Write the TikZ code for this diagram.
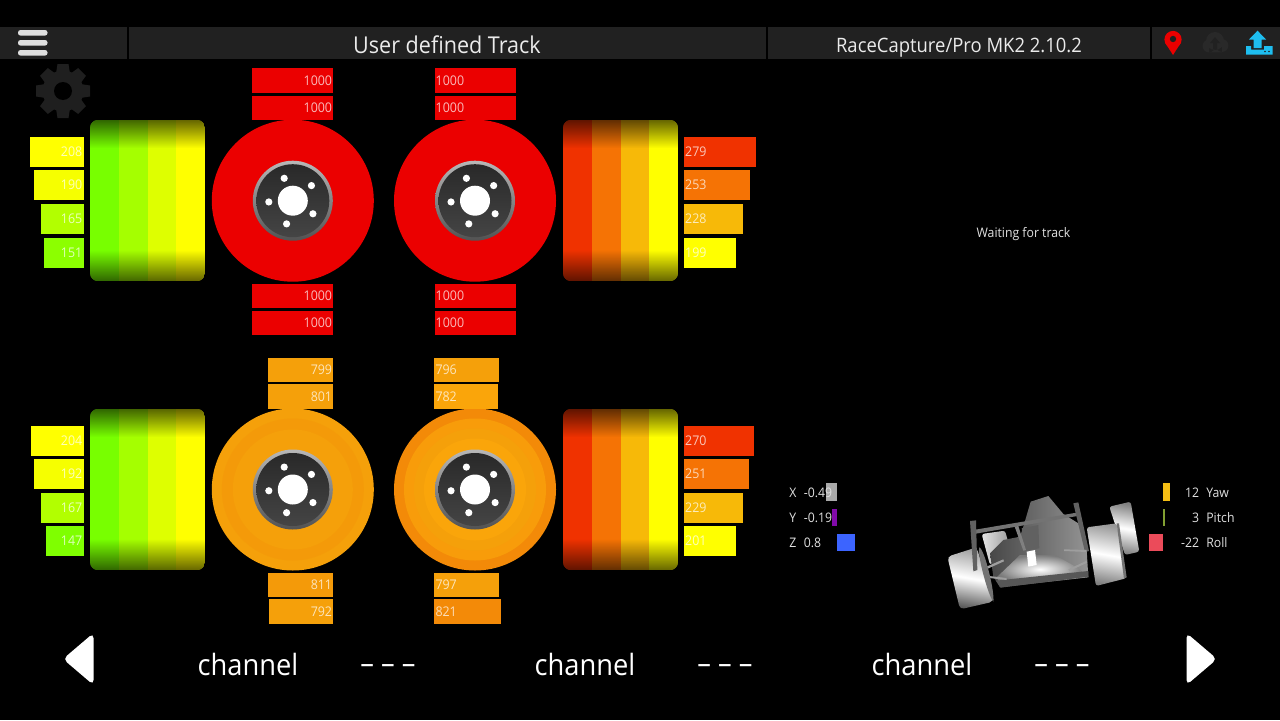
\documentclass[tikz,border=0pt]{standalone}
\usepackage{fontspec}
\setmainfont{Open Sans}[FakeStretch=0.93]
\definecolor{headbar}{RGB}{33,33,33}
\definecolor{gearcol}{RGB}{31,31,31}
\definecolor{cloudcol}{RGB}{41,41,41}
\definecolor{uploadcol}{RGB}{30,190,240}
\definecolor{discred}{RGB}{235,0,0}
\definecolor{hubdark}{RGB}{48,48,48}
\definecolor{tA}{RGB}{255,255,0}
\definecolor{tB}{RGB}{222,255,0}
\definecolor{tC}{RGB}{165,255,0}
\definecolor{tD}{RGB}{120,255,0}
\definecolor{tE}{RGB}{247,185,8}
\definecolor{tF}{RGB}{245,115,5}
\definecolor{tG}{RGB}{240,50,0}
\definecolor{bA}{RGB}{245,160,10}
\definecolor{bB}{RGB}{244,154,9}
\definecolor{bC}{RGB}{243,138,8}
\definecolor{bD}{RGB}{248,156,10}
\definecolor{bE}{RGB}{250,165,10}
\definecolor{imuX}{RGB}{170,170,170}
\definecolor{imuY}{RGB}{130,10,170}
\definecolor{imuZ}{RGB}{60,100,255}
\definecolor{imuYaw}{RGB}{245,190,20}
\definecolor{imuPitch}{RGB}{130,160,50}
\definecolor{imuRoll}{RGB}{235,75,90}
\usetikzlibrary{fadings}
\tikzset{
  barbox/.style={anchor=west,inner sep=0pt,outer sep=0pt,minimum height=30*0.02cm},
  brakebox/.style={barbox,minimum height=24.4*0.02cm},
  bartext/.style={font=\fontsize{7.6}{8}\selectfont,text=white,text opacity=0.72,inner sep=0.5pt},
  uitext/.style={font=\fontsize{7.5}{8}\selectfont,text=white!88!black,inner sep=0pt},
  channeltext/.style={font=\fontsize{16.7}{20}\selectfont,text=white,inner sep=0pt}
}
\newcommand{\valbar}[7][barbox]{\ifdim#4pt<600pt \def\barside{east}\else\def\barside{west}\fi
  \ifdim#4pt>400pt \ifdim#4pt<600pt \def\barside{west}\fi\fi
  \node[#1,fill=#3,minimum width=#5*0.02cm] at (#4,#6) (#2) {};
  \node[bartext,anchor=\barside] at (#2.\barside) (#2t) {#7}}
\newcommand{\tyrestrip}[3]{\begin{scope}[shift={(#1,#2)}]
    \clip[rounded corners=1.6mm] (0,0) rectangle (115,161);
    \foreach \c [count=\i from 0, evaluate=\i as \sx using \i*28.75] in {#3} {
      \fill[\c] (\sx,0) rectangle ++(28.75,161);
    }
    \fill[black,fill opacity=0.6,path fading=south] (0,0) rectangle (115,28);
    \fill[black,fill opacity=0.6,path fading=north] (0,130) rectangle (115,161);
  \end{scope}}
\newcommand{\brakedisc}[4]{\coordinate (#1) at (#2,#3);
  \foreach \r/\c in {#4} {\fill[\c] (#1) circle[radius=\r];}
  \shade[top color=white!72!black,bottom color=white!32!black] (#1) circle[radius=40];
  \shade[top color=hubdark!85!black,bottom color=hubdark!90!white] (#1) circle[radius=36.5];
  \fill[white] (#1) circle[radius=15];
  \foreach \a in {39,111,183,255,327} {\fill[white] (#1) ++(-\a:24) circle[radius=3.6];}}
\begin{document}
\begin{tikzpicture}[x=0.02cm,y=-0.02cm]
  \useasboundingbox (0,0) rectangle (1280,720);
  \fill[black] (0,0) rectangle (1280,720);
  % header
  \fill[headbar] (0,27) rectangle (1280,59);
  \foreach \x in {128,767,1151} {\fill[black] (\x-0.8,27) rectangle (\x+0.8,59);}
  \foreach \y in {30,40,50} {\fill[white!87!black,rounded corners=0.5mm] (18,\y) rectangle (47.5,\y+5.6);}
  \node[font=\fontsize{13.2}{16}\selectfont,text=white!92!black,inner sep=0pt] at (447,45) (tracktitle) {User defined Track};
  \node[font=\fontsize{11.3}{14}\selectfont,text=white!92!black,inner sep=0pt] at (959,47.5) (devicename) {RaceCapture/Pro MK2 2.10.2};
  % pin
  \fill[red!92!black] (1173,55) -- (1165.3,43) -- (1180.7,43) -- cycle;
  \fill[red!92!black] (1173,39.5) circle[radius=8.6];
  \fill[headbar] (1173,39) circle[radius=3.2];
  % cloud
  \fill[cloudcol] (1209,46) circle[radius=6.4] (1215,41) circle[radius=9] (1222,45.5) circle[radius=6.4] (1209,44) rectangle (1222,52.4);
  \fill[headbar] (1215,37) -- (1220,43) -- (1217,43) -- (1217,49) -- (1213,49) -- (1213,43) -- (1210,43) -- cycle;
  % upload
  \fill[uploadcol] (1246,46) -- (1251,46) -- (1251,49.5) -- (1264,49.5) -- (1264,46) -- (1272.5,46) -- (1272.5,54.5) -- (1246,54.5) -- cycle;
  \fill[uploadcol] (1257.5,30.7) -- (1266,39.5) -- (1261.5,39.5) -- (1261.5,48) -- (1253.5,48) -- (1253.5,39.5) -- (1249,39.5) -- cycle;
  \fill[headbar] (1265,51.5) circle[radius=0.9] (1269,51.5) circle[radius=0.9];
  % gear
  \foreach \a in {0,45,...,315} {\fill[gearcol,rotate around={\a:(63,91)}] (57.5,64) -- (68.5,64) -- (71,80) -- (55,80) -- cycle;}
  \fill[gearcol] (63,91) circle[radius=20.5];
  \fill[black] (63,91) circle[radius=9];

  % tyres
  \tyrestrip{90}{120}{tD,tC,tB,tA}
  \tyrestrip{563}{120}{tG,tF,tE,tA}
  \tyrestrip{90}{409}{tD,tC,tB,tA}
  \tyrestrip{563}{409}{tG,tF,tE,tA}

  % discs
  \brakedisc{discfl}{292.8}{200.7}{81/discred}
  \brakedisc{discfr}{475}{200.7}{81/discred}
  \brakedisc{discrl}{292.8}{489.5}{81/bA,71/bB,60/bA}
  \brakedisc{discrr}{475}{489.5}{81/bC,71/bD,61/bA,51/bE}

  % tyre temperature bars
  \valbar{tfl1}{tA}{30}{53.5}{152}{208};
  \valbar{tfl2}{tA!90!tC}{34.3}{49.2}{185}{190};
  \valbar{tfl3}{tC!85!tA}{41}{42.5}{219}{165};
  \valbar{tfl4}{tC!45!tD}{44.3}{39.2}{253}{151};
  \valbar{tfr1}{tG}{684}{72}{152}{279};
  \valbar{tfr2}{tF}{684}{65.5}{185}{253};
  \valbar{tfr3}{tE}{684}{59}{219}{228};
  \valbar{tfr4}{tA}{684}{52}{253}{199};
  \valbar{trl1}{tA}{31.3}{52.2}{440.5}{204};
  \valbar{trl2}{tA!90!tC}{34.3}{49.2}{474}{192};
  \valbar{trl3}{tC!85!tA}{40.6}{42.9}{508}{167};
  \valbar{trl4}{tD!85!tC}{45.6}{37.9}{541}{147};
  \valbar{trr1}{tG}{684}{70}{440.5}{270};
  \valbar{trr2}{tF}{684}{65}{474}{251};
  \valbar{trr3}{tE}{684}{59}{508}{229};
  \valbar{trr4}{tA}{684}{52}{541}{201};

  % brake temperature bars
  \valbar[brakebox]{bfl1}{discred}{252}{81.3}{80.5}{1000};
  \valbar[brakebox]{bfl2}{discred}{252}{81.3}{107.8}{1000};
  \valbar[brakebox]{bfl3}{discred}{252}{81.3}{296}{1000};
  \valbar[brakebox]{bfl4}{discred}{252}{81.3}{322.8}{1000};
  \valbar[brakebox]{bfr1}{discred}{434.5}{81.3}{80.5}{1000};
  \valbar[brakebox]{bfr2}{discred}{434.5}{81.3}{107.8}{1000};
  \valbar[brakebox]{bfr3}{discred}{434.5}{81.3}{296}{1000};
  \valbar[brakebox]{bfr4}{discred}{434.5}{81.3}{322.8}{1000};
  \valbar[brakebox]{brl1}{bA}{268.3}{65}{370}{799};
  \valbar[brakebox]{brl2}{bA}{268.3}{65}{396.6}{801};
  \valbar[brakebox]{brl3}{bB}{267.7}{65.6}{585}{811};
  \valbar[brakebox]{brl4}{bA}{269}{64.3}{611.4}{792};
  \valbar[brakebox]{brr1}{bA}{434.3}{65}{370}{796};
  \valbar[brakebox]{brr2}{bE}{434.3}{63.4}{396.6}{782};
  \valbar[brakebox]{brr3}{bA}{434.3}{65}{585}{797};
  \valbar[brakebox]{brr4}{bC}{434.3}{67}{611.4}{821};

  \node[uitext] at (1023.5,234.5) (waitmsg) {Waiting for track};

  % imu readout
  \fill[imuX] (826,483.3) rectangle (837.3,500.7);
  \fill[imuY] (832.3,509) rectangle (837.3,525.7);
  \fill[imuZ] (836.7,534) rectangle (855,550.7);
  \node[uitext,anchor=west] at (789,493) (imuxl) {X};
  \node[uitext,anchor=west] at (789,518) (imuyl) {Y};
  \node[uitext,anchor=west] at (789,543) (imuzl) {Z};
  \node[uitext,anchor=west] at (803.5,493) (imux) {-0.49};
  \node[uitext,anchor=west] at (803.5,518) (imuy) {-0.19};
  \node[uitext,anchor=west] at (803.5,543) (imuz) {0.8};
  \fill[imuYaw] (1162.7,483.3) rectangle (1170.3,500.7);
  \fill[imuPitch] (1162.7,509) rectangle (1165,525.7);
  \fill[imuRoll] (1149.3,534) rectangle (1163,550.7);
  \node[uitext,anchor=east] at (1199.5,493) (yawv) {12};
  \node[uitext,anchor=east] at (1199.5,518) (pitchv) {3};
  \node[uitext,anchor=east] at (1199.5,543) (rollv) {-22};
  \node[uitext,anchor=west] at (1206,493) (yawl) {Yaw};
  \node[uitext,anchor=west] at (1206,518) (pitchl) {Pitch};
  \node[uitext,anchor=west] at (1206,543) (rolll) {Roll};

  % car
  \begin{scope}[shift={(940,490)},scale=0.3333]
    % far wheels
    \shade[top color=white!50!black,bottom color=white!50!black,middle color=white,shading angle=-10,rounded corners=0.5mm] (508,50) -- (572,35) -- (598,185) -- (555,195) -- cycle;
    \shade[left color=white!90!black,right color=white!60!black,rounded corners=0.5mm] (125,132) -- (195,122) -- (210,175) -- (150,225) -- cycle;
    % body
    \shade[left color=white!28!black,right color=white!58!black] (150,190) -- (190,150) -- (240,140) -- (250,110) -- (272,35) -- (325,18) -- (370,72) -- (415,100) -- (440,180) -- (445,262) -- (180,292) -- (160,260) -- cycle;
    \fill[white!38!black] (245,115) -- (295,105) -- (298,175) -- (255,182) -- cycle;
    \shade[inner color=white,outer color=white!48!black] (170,262) -- (240,195) -- (345,195) -- (415,235) -- (430,250) -- (180,280) -- cycle;
    \fill[white!34!black] (168,272) -- (445,243) -- (445,260) -- (182,293) -- cycle;
    \fill[white] (260,185) -- (285,180) -- (290,225) -- (265,230) -- cycle;
    % wing and arms
    \fill[white!45!black] (100,120) -- (410,68) -- (412,78) -- (102,132) -- cycle;
    \fill[white!38!black] (400,40) -- (415,37) -- (447,183) -- (435,186) -- cycle;
    \fill[white!50!black] (224,110) -- (235,108) -- (258,180) -- (250,182) -- cycle;
    \fill[white!62!black] (128,235) -- (190,208) -- (192,214) -- (130,242) -- cycle;
    \fill[white!62!black] (130,256) -- (200,264) -- (200,270) -- (130,262) -- cycle;
    \fill[white!62!black] (372,178) -- (440,180) -- (440,186) -- (372,183) -- cycle;
    \fill[white!62!black] (385,238) -- (440,212) -- (442,218) -- (388,243) -- cycle;
    % near wheels
    \shade[top color=white!62!black,bottom color=white!35!black,middle color=white,shading angle=-10,rounded corners=0.8mm] (22,200) -- (110,172) -- (160,335) -- (60,358) -- cycle;
    \fill[white!45!black] (118,172) .. controls (135,180) and (165,310) .. (160,335) .. controls (145,320) and (110,190) .. (118,172) -- cycle;
    \shade[top color=white!60!black,bottom color=white!50!black,middle color=white,shading angle=-10,rounded corners=0.5mm] (440,112) -- (530,100) -- (558,265) -- (468,288) -- cycle;
    \fill[white!45!black] (530,100) -- (537,100) -- (560,262) -- (552,266) -- cycle;
    \fill[white!38!black] (90,93) -- (108,91) -- (112,240) -- (100,244) -- cycle;
  \end{scope}

  % footer
  \fill[white,rounded corners=1mm] (63,659) -- (93.5,633) -- (93.5,685) -- cycle;
  \fill[white,rounded corners=1mm] (1217,659) -- (1186.5,633) -- (1186.5,685) -- cycle;
  \foreach \x/\n in {248/cha,585/chb,922/chc} {
    \node[channeltext] at (\x,664.5) (\n) {channel};
    \node[channeltext] at (\x+140,669) (\n v) {– – –};
  }
\end{tikzpicture}
\end{document}
